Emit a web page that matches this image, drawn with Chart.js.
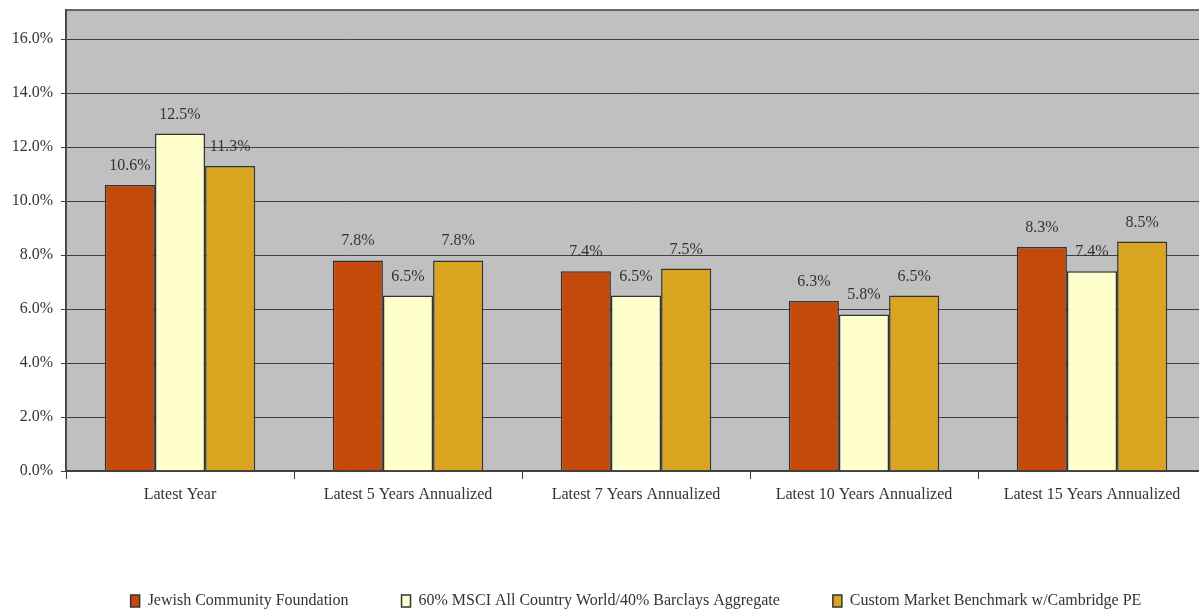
<!DOCTYPE html>
<html>
<head>
<meta charset="utf-8">
<script src="https://cdn.jsdelivr.net/npm/chart.js@4.4.1/dist/chart.umd.min.js"></script>
<style>
  html, body { margin: 0; padding: 0; background: #fff; overflow: hidden; }
  #wrap { width: 1210px; height: 614px; }
</style>
</head>
<body>
<div id="wrap"><canvas id="returnsChart" width="1210" height="614"></canvas></div>
<script>
// periods and returns (%)
const periods = ['Latest Year', 'Latest 5 Years Annualized', 'Latest 7 Years Annualized', 'Latest 10 Years Annualized', 'Latest 15 Years Annualized'];
const seriesNames = ['Jewish Community Foundation', '60% MSCI All Country World/40% Barclays Aggregate', 'Custom Market Benchmark w/Cambridge PE'];
const jcfReturns = [10.6, 7.8, 7.4, 6.3, 8.3];
const msciReturns = [12.5, 6.5, 6.5, 5.8, 7.4];
const customReturns = [11.3, 7.8, 7.5, 6.5, 8.5];

const textColor = '#333333';
const serif = "'Liberation Serif', 'Times New Roman', serif";

// grey plot background + frame
const plotFrame = {
  id: 'plotFrame',
  beforeDraw(chart) {
    const { ctx, chartArea: a } = chart;
    ctx.save();
    ctx.fillStyle = '#C0C0C0';
    ctx.fillRect(a.left, a.top, a.right - a.left, a.bottom - a.top);
    ctx.restore();
  },
  afterDraw(chart) {
    const { ctx, chartArea: a } = chart;
    ctx.save();
    ctx.strokeStyle = '#404040';
    ctx.lineWidth = 1.5;
    ctx.strokeRect(a.left, a.top, a.right - a.left, a.bottom - a.top);
    ctx.restore();
  }
};

// value labels above bars
const valueLabels = {
  id: 'valueLabels',
  afterDatasetsDraw(chart) {
    const ctx = chart.ctx;
    ctx.save();
    ctx.font = '16px ' + serif;
    ctx.fillStyle = textColor;
    ctx.textAlign = 'center';
    ctx.textBaseline = 'alphabetic';
    chart.data.datasets.forEach((ds, i) => {
      chart.getDatasetMeta(i).data.forEach((bar, j) => {
        ctx.fillText(ds.data[j].toFixed(1) + '%', bar.x, bar.y - 15);
      });
    });
    ctx.restore();
  }
};

new Chart(document.getElementById('returnsChart'), {
  type: 'bar',
  data: {
    labels: periods,
    datasets: [
      { label: seriesNames[0], data: jcfReturns, backgroundColor: '#C34A0A' },
      { label: seriesNames[1], data: msciReturns, backgroundColor: '#FFFFCC' },
      { label: seriesNames[2], data: customReturns, backgroundColor: '#DAA520' }
    ]
  },
  options: {
    responsive: false,
    animation: false,
    layout: { padding: { top: 10, left: 0, right: 4, bottom: -5 } },
    datasets: {
      bar: {
        borderColor: '#333333',
        borderWidth: 1.5,
        borderSkipped: 'bottom',
        categoryPercentage: 0.66,
        barPercentage: 1
      }
    },
    plugins: {
      legend: {
        position: 'bottom',
        fullSize: false,
        labels: {
          color: textColor,
          font: { family: serif, size: 16 },
          boxWidth: 9,
          boxHeight: 12,
          padding: 53,
          useBorderRadius: false
        }
      },
      tooltip: { enabled: false }
    },
    scales: {
      x: {
        grid: { offset: true, drawOnChartArea: false, drawTicks: true, tickLength: 8, color: '#404040' },
        border: { display: true, color: '#404040', width: 1.5 },
        ticks: { color: textColor, font: { family: serif, size: 16 }, padding: 6, maxRotation: 0 },
        afterFit(scale) { scale.height = 69; }
      },
      y: {
        min: 0,
        max: 17.08,
        grid: { color: '#404040', lineWidth: 1, tickLength: 5 },
        border: { display: true, color: '#404040', width: 1.5 },
        ticks: {
          stepSize: 2,
          includeBounds: false,
          color: textColor,
          font: { family: serif, size: 16 },
          padding: 8,
          callback: v => v.toFixed(1) + '%'
        },
        afterFit(scale) {
          scale.width = 66;
          scale.paddingTop = 0;
        }
      }
    }
  },
  plugins: [plotFrame, valueLabels]
});
</script>
</body>
</html>
